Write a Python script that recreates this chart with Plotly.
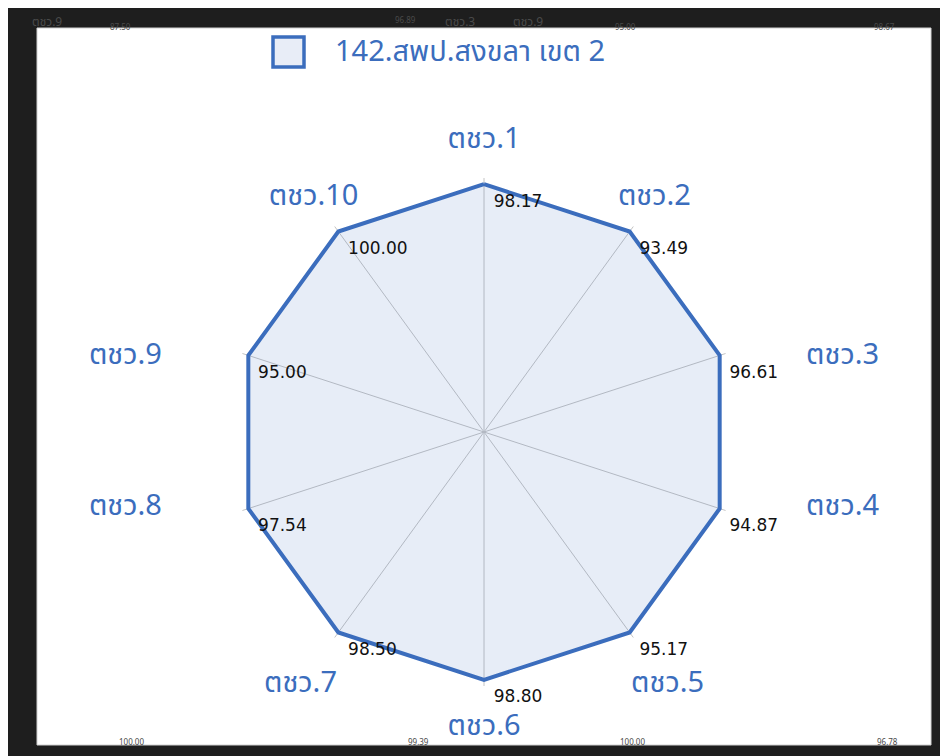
import plotly.graph_objects as go

# ---- data ----
categories = ["ตชว.1", "ตชว.2", "ตชว.3", "ตชว.4", "ตชว.5",
              "ตชว.6", "ตชว.7", "ตชว.8", "ตชว.9", "ตชว.10"]
scores = [98.17, 93.49, 96.61, 94.87, 95.17, 98.80, 98.50, 97.54, 95.00, 100.00]
# radius at which each vertex is drawn in the picture (all on the same ring)
plotted = [100, 100, 100, 100, 100, 100, 100, 100, 100, 100]
series_name = "142.สพป.สงขลา เขต 2"

# ---- style ----
BLUE = "#3b6dbd"
FILL = "rgba(59,109,189,0.12)"
THAI = "Noto Sans Thai, Noto Sans Thai UI, Noto Sans, sans-serif"
label_r = [117.5, 117, 132, 132, 126, 119.5, 126, 132, 132, 117]
label_pos = ["middle center", "middle center", "bottom right", "top right",
             "middle center", "middle center", "middle center", "top left",
             "bottom left", "middle center"]

W, H = 948, 756
OFF = 8  # page body margin in the screenshot

def px(x):
    return (x - OFF) / W

def py(y):
    return 1 - (y - OFF) / H

fig = go.Figure()

# polygon
fig.add_trace(go.Scatterpolar(
    r=plotted + plotted[:1],
    theta=categories + categories[:1],
    mode="lines",
    fill="toself",
    fillcolor=FILL,
    line=dict(color=BLUE, width=4),
    name=series_name,
    showlegend=False,
    hoverinfo="skip",
    subplot="polar",
))

# value labels
fig.add_trace(go.Scatterpolar(
    r=plotted,
    theta=categories,
    mode="markers+text",
    marker=dict(size=14, color="rgba(0,0,0,0)"),
    text=[f"{v:.2f}" for v in scores],
    textposition="bottom right",
    textfont=dict(family="DejaVu Sans", size=17, color="#111111"),
    showlegend=False,
    hoverinfo="skip",
    cliponaxis=False,
    subplot="polar",
))

# category labels on a larger, invisible companion polar subplot
fig.add_trace(go.Scatterpolar(
    r=label_r,
    theta=categories,
    mode="markers+text",
    marker=dict(size=16, color="rgba(0,0,0,0)"),
    text=categories,
    textposition=label_pos,
    textfont=dict(family=THAI, size=29, color=BLUE),
    showlegend=False,
    hoverinfo="skip",
    cliponaxis=False,
    subplot="polar2",
))

# geometry: center (484,432) in screenshot px
cx, cy = 484, 432
R = 254            # outer radius of main polar (range 0..102.5)
R2 = 332           # outer radius of label polar
R2_max = 102.5 * R2 / R

hidden_ang = dict(direction="clockwise", rotation=90, showline=False,
                  showticklabels=False, ticks="", showgrid=False)

fig.update_layout(
    width=W, height=H,
    margin=dict(l=0, r=0, t=0, b=0),
    paper_bgcolor="#1e1e1e",
    showlegend=False,
    polar=dict(
        domain=dict(x=[px(cx - R), px(cx + R)], y=[py(cy + R), py(cy - R)]),
        bgcolor="rgba(0,0,0,0)",
        radialaxis=dict(range=[0, 102.5], visible=False, showgrid=False),
        angularaxis=dict(
            direction="clockwise", rotation=90,
            showline=False, showticklabels=False, ticks="",
            showgrid=True, gridcolor="#c4c4c4", gridwidth=1,
        ),
    ),
    polar2=dict(
        domain=dict(x=[px(cx - R2), px(cx + R2)], y=[py(cy + R2), py(cy - R2)]),
        bgcolor="rgba(0,0,0,0)",
        radialaxis=dict(range=[0, R2_max], visible=False, showgrid=False),
        angularaxis=dict(categoryarray=categories, categoryorder="array", **hidden_ang),
    ),
    shapes=[
        # white panel
        dict(type="rect", xref="paper", yref="paper", layer="below",
             x0=px(37), x1=px(931), y0=py(745), y1=py(28),
             fillcolor="white", line=dict(color="#d0d0d0", width=1)),
        # legend swatch
        dict(type="rect", xref="paper", yref="paper",
             x0=px(273), x1=px(304), y0=py(67), y1=py(37),
             fillcolor="#e8edf7", line=dict(color=BLUE, width=3.5)),
    ],
    annotations=[
        dict(text=series_name, xref="paper", yref="paper",
             x=px(333), y=py(52), xanchor="left", yanchor="middle",
             showarrow=False, font=dict(family=THAI, size=29, color=BLUE)),
    ],
)

# faint remnants of the page behind the dialog
bg_texts = [("ตชว.9", 30, 11, 12), ("87.50", 108, 20, 8), ("96.89", 405, 13, 8),
            ("ตชว.3", 460, 11, 12), ("ตชว.9", 528, 11, 12), ("95.00", 625, 20, 8),
            ("98.67", 897, 20, 8),
            ("100.00", 117, 751, 8), ("99.39", 418, 751, 8), ("100.00", 632, 751, 8),
            ("96.78", 900, 751, 8)]
for t, x, y, s in bg_texts:
    fig.add_annotation(text=t, xref="paper", yref="paper", x=px(x), y=py(y),
                       showarrow=False, font=dict(family=THAI, size=s, color="#4a4a4a"))

fig.write_html("out.html")
